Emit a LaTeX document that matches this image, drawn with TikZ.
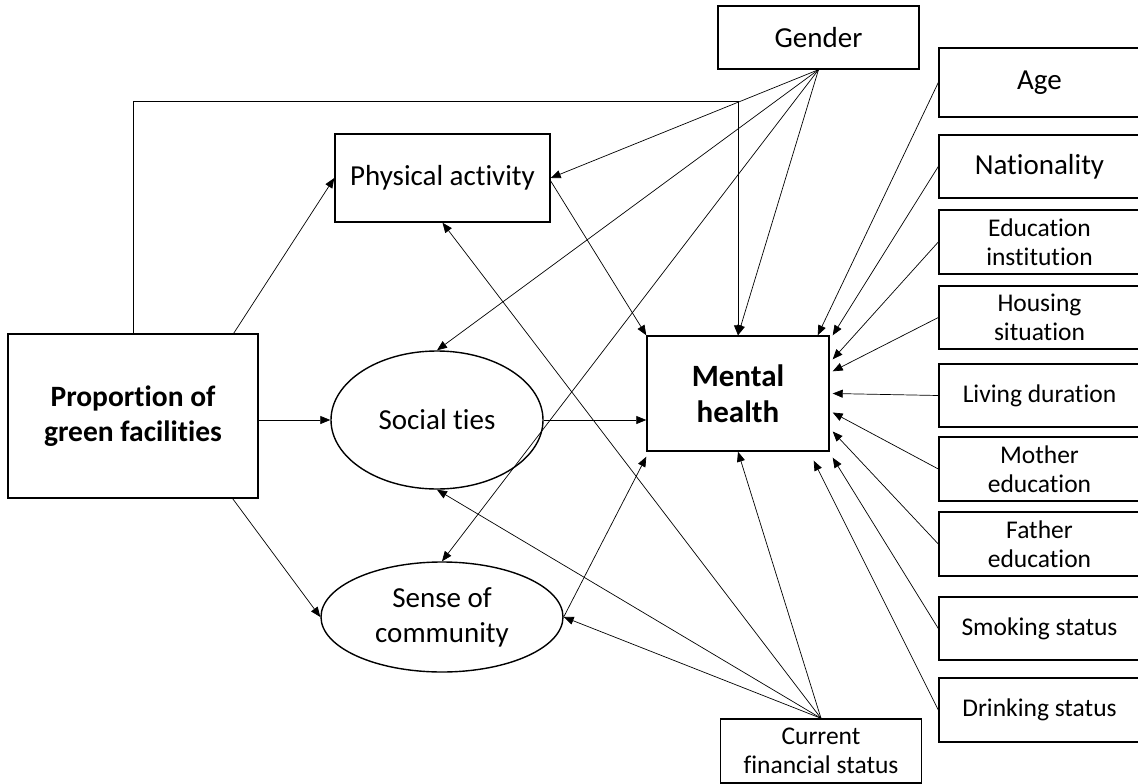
\documentclass[tikz,border=0pt]{standalone}
\usepackage{fontspec}
\setmainfont{Carlito}[Ligatures=NoCommon]
\usetikzlibrary{arrows.meta,shapes.geometric}

\begin{document}
\begin{tikzpicture}[x=1pt,y=-1pt,
        box/.style={draw,line width=1.4pt,align=center,inner sep=0pt,font=\fontsize{29}{35}\selectfont},
        ctrl/.style={draw,line width=1.4pt,align=center,inner sep=0pt,minimum width=201pt,font=\fontsize{25.5}{29}\selectfont},
        blob/.style={ellipse,draw,line width=1.4pt,align=center,inner sep=0pt,font=\fontsize{29}{35}\selectfont},
        link/.style={-{Triangle[length=10pt,width=8pt]},line width=0.7pt}]
            \useasboundingbox (0,0) rectangle (1138,784);

            % main model
            \node[box,font=\bfseries\fontsize{29.5}{35}\selectfont,minimum width=250pt,minimum height=164pt] (green) at (133,416) {Proportion of\\green facilities};
            \node[box,minimum width=215pt,minimum height=88pt] (phys) at (442.5,178) {Physical activity};
            \node[blob,minimum width=212pt,minimum height=138pt] (ties) at (437,420) {Social ties};
            \node[blob,minimum width=242pt,minimum height=110pt] (comm) at (442,617) {Sense of\\community};
            \node[box,font=\bfseries\fontsize{31}{36}\selectfont,minimum width=182pt,minimum height=115pt] (mental) at (738,393.5) {Mental\\health};

            % covariates
            \node[box,minimum width=201pt,minimum height=63pt] (gender) at (818.5,37.5) {Gender};
            \node[box,minimum width=201pt,minimum height=69pt] (age) at (1039.5,82.5) {Age};
            \node[box,minimum width=201pt,minimum height=63pt] (nation) at (1039.5,166.5) {Nationality};
            \node[ctrl,minimum height=64pt] (edu) at (1039.5,242) {Education\\institution};
            \node[ctrl,minimum height=63pt] (house) at (1039.5,317.5) {Housing\\situation};
            \node[ctrl,minimum height=63pt] (living) at (1039.5,395.5) {Living duration};
            \node[ctrl,minimum height=64pt] (mother) at (1039.5,469) {Mother\\education};
            \node[ctrl,minimum height=64pt] (father) at (1039.5,544) {Father\\education};
            \node[ctrl,minimum height=63pt] (smoke) at (1039.5,628.5) {Smoking status};
            \node[ctrl,minimum height=64pt] (drink) at (1039.5,710) {Drinking status};
            \node[ctrl,minimum height=64pt] (money) at (821,751) {Current\\financial status};

            \coordinate (top) at (0,101);
            \draw[link] (green.north) |- (top -| mental.north) -- (mental.north);
            \draw[link] ([xshift=-25pt]green.north east) -- (phys.west);
            \draw[link] (ties.west -| green.east) -- (ties.west);
            \draw[link] ([xshift=-26pt]green.south east) -- (comm.west);
            \draw[link] ([yshift=-3pt]phys.east) -- (mental.north west);
            \draw[link] (ties.east) -- (ties.east -| mental.west);
            \draw[link] (comm.east) -- ([yshift=-5pt]mental.south west);

            \foreach \t in {phys.east,ties.north,comm.north,mental.north}
                \draw[link] (gender.south) -- (\t);
            \foreach \t in {phys.south,ties.south,comm.east,mental.south}
                \draw[link] (money.north) -- (\t);

            \draw[link] (age.west) -- ([xshift=-12pt]mental.north east);
            \draw[link] (nation.west) -- ([xshift=3pt]mental.north east);
            \draw[link] (edu.west) -- ([shift={(3pt,-24pt)}]mental.north east);
            \draw[link] (house.west) -- ([shift={(3pt,-36pt)}]mental.north east);
            \draw[link] (living.west) -- ([xshift=3pt]mental.east);
            \draw[link] (mother.west) -- ([shift={(3pt,-19pt)}]mental.east);
            \draw[link] (father.west) -- ([shift={(3pt,-38pt)}]mental.east);
            \draw[link] (smoke.west) -- ([shift={(3pt,-6pt)}]mental.south east);
            \draw[link] (drink.west) -- ([shift={(-16pt,-9pt)}]mental.south east);

        \end{tikzpicture}
\end{document}
